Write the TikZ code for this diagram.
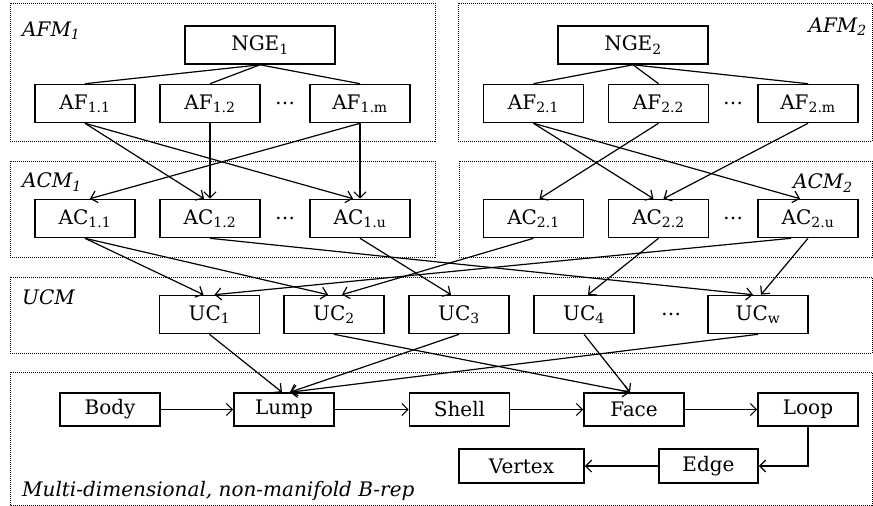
\documentclass[tikz,border=0pt]{standalone}
\usepackage{fontspec}
\setmainfont{DejaVu Serif}
\usepackage{tikz}
\usetikzlibrary{arrows.meta}
\tikzset{
  blk/.style = {draw=black, line width=1.6pt, align=center, inner sep=0pt, minimum width=100pt, minimum height=38pt, font=\fontsize{20}{24}\selectfont},
  lowblk/.style = {blk, minimum height=33pt},
  gap/.style = {inner sep=0pt, font=\fontsize{20}{24}\selectfont},
  frame/.style = {draw=black, densely dotted, line width=1pt},
  mlabel/.style = {inner sep=0pt, font=\itshape\fontsize{20}{24}\selectfont},
  link/.style = {line width=1.2pt},
  arr/.style = {link, -{Straight Barb[length=6pt,width=12pt]}},
}

\begin{document}
\begin{tikzpicture}[x=1pt, y=-1pt]
\useasboundingbox (0,0) rectangle (873,506);

% module frames
\draw [frame] (10,3) rectangle (435,141);
\draw [frame] (458,3) rectangle (872,141);
\draw [frame] (10,161) rectangle (435,257);
\draw [frame] (459,161) rectangle (872,257);
\draw [frame] (10,277) rectangle (872,353);
\draw [frame] (10,372) rectangle (872,505);

\node [mlabel, anchor=west] (afmA) at (22,31) {AFM\textsubscript{1}};
\node [mlabel, anchor=east] (afmB) at (867,27) {AFM\textsubscript{2}};
\node [mlabel, anchor=west] (acmA) at (22,182) {ACM\textsubscript{1}};
\node [mlabel, anchor=east] (acmB) at (853,183) {ACM\textsubscript{2}};
\node [mlabel, anchor=west] (ucm) at (22,297) {UCM};
\node [mlabel, anchor=west] (brep) at (22,491) {Multi-dimensional, non-manifold B-rep};

% AFM
\node [blk, minimum width=150pt] (ngeA) at (260,45) {NGE\textsubscript{1}};
\node [blk] (afA1) at (85,103.5) {AF\textsubscript{1.1}};
\node [blk] (afA2) at (210,103.5) {AF\textsubscript{1.2}};
\node [gap] (afAd) at (285,103.5) {\dots};
\node [blk] (afAm) at (360,103.5) {AF\textsubscript{1.m}};

\node [blk, minimum width=150pt] (ngeB) at (633,45) {NGE\textsubscript{2}};
\node [blk] (afB1) at (533.5,103.5) {AF\textsubscript{2.1}};
\node [blk] (afB2) at (658.5,103.5) {AF\textsubscript{2.2}};
\node [gap] (afBd) at (733,103.5) {\dots};
\node [blk] (afBm) at (808,103.5) {AF\textsubscript{2.m}};

% ACM
\node [blk] (acA1) at (85,218.5) {AC\textsubscript{1.1}};
\node [blk] (acA2) at (210,218.5) {AC\textsubscript{1.2}};
\node [gap] (acAd) at (285,218.5) {\dots};
\node [blk] (acAu) at (360,218.5) {AC\textsubscript{1.u}};

\node [blk] (acB1) at (533.5,218.5) {AC\textsubscript{2.1}};
\node [blk] (acB2) at (658.5,218.5) {AC\textsubscript{2.2}};
\node [gap] (acBd) at (733,218.5) {\dots};
\node [blk] (acBu) at (808,218.5) {AC\textsubscript{2.u}};

% UCM
\node [blk] (uc1) at (209.5,314.5) {UC\textsubscript{1}};
\node [blk] (uc2) at (334,314.5) {UC\textsubscript{2}};
\node [blk] (uc3) at (459,314.5) {UC\textsubscript{3}};
\node [blk] (uc4) at (584,314.5) {UC\textsubscript{4}};
\node [gap] (ucd) at (671,314.5) {\dots};
\node [blk] (ucw) at (758,314.5) {UC\textsubscript{w}};

% B-rep
\node [lowblk] (body) at (110,409.5) {Body};
\node [lowblk] (lump) at (284,409.5) {Lump};
\node [lowblk] (shell) at (459.5,409.5) {Shell};
\node [lowblk] (face) at (634,409.5) {Face};
\node [lowblk] (loop) at (808,409.5) {Loop};
\node [lowblk, minimum width=125pt, minimum height=34pt] (vertex) at (521.5,466) {Vertex};
\node [lowblk, minimum width=99pt, minimum height=34pt] (edge) at (708.5,466) {Edge};

% NGE to AF
\draw [link] (ngeA.south) -- (afA1.north);
\draw [link] (ngeA.south) -- (afA2.north);
\draw [link] (ngeA.south) -- (afAm.north);
\draw [link] (ngeB.south) -- (afB1.north);
\draw [link] (ngeB.south) -- (afB2.north);
\draw [link] (ngeB.south) -- (afBm.north);

% AF to AC
\draw [arr] (afA1.south) -- ([xshift=-6pt]acA2.north);
\draw [arr] (afA1.south) -- ([xshift=-7pt]acAu.north);
\draw [arr] (afA2.south) -- (acA2.north);
\draw [arr] (afAm.south) -- ([xshift=5pt]acA1.north);
\draw [arr] (afAm.south) -- (acAu.north);
\draw [arr] (afB1.south) -- ([xshift=-5pt]acB2.north);
\draw [arr] (afB1.south) -- ([xshift=-8pt]acBu.north);
\draw [arr] (afB2.south) -- ([xshift=6pt]acB1.north);
\draw [arr] (afBm.south) -- ([xshift=5pt]acB2.north);

% AC to UC
\draw [arr] (acA1.south) -- ([xshift=-6pt]uc1.north);
\draw [arr] (acA1.south) -- ([xshift=-6pt]uc2.north);
\draw [arr] (acA2.south) -- ([xshift=-5pt]ucw.north);
\draw [arr] (acAu.south) -- ([xshift=-8pt]uc3.north);
\draw [arr] (acB1.south) -- ([xshift=8pt]uc2.north);
\draw [arr] (acB2.south) -- ([xshift=4pt]uc4.north);
\draw [arr] ([xshift=-17pt]acBu.south) -- ([xshift=5pt]uc1.north);
\draw [arr] (acBu.south) -- ([xshift=3pt]ucw.north);

% UC to B-rep
\draw [arr] (uc1.south) -- ([xshift=-2pt]lump.north);
\draw [arr] (uc3.south) -- ([xshift=6pt]lump.north);
\draw [arr] (ucw.south) -- ([xshift=6pt]lump.north);
\draw [arr] (uc2.south) -- ([xshift=-4pt]face.north);
\draw [arr] (uc4.south) -- ([xshift=-4pt]face.north);

% topology chain
\draw [arr] (body) -- (lump);
\draw [arr] (lump) -- (shell);
\draw [arr] (shell) -- (face);
\draw [arr] (face) -- (loop);
\draw [arr] (loop.south) |- (edge.east);
\draw [arr] (edge) -- (vertex);
\end{tikzpicture}
\end{document}
